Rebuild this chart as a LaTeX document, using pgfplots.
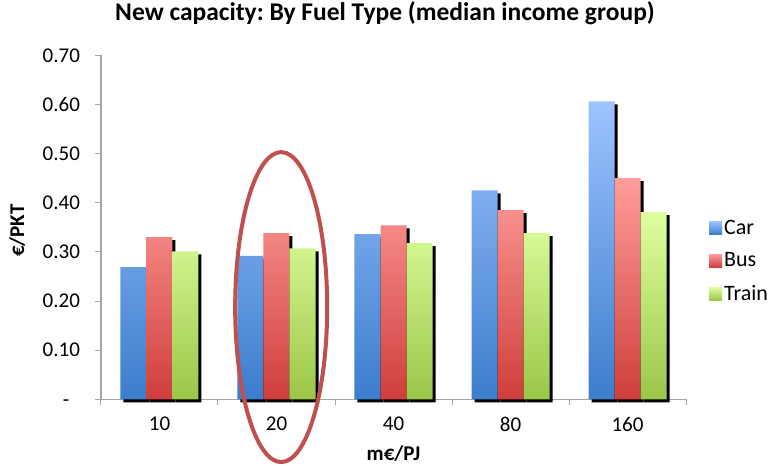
\documentclass[border=0pt]{standalone}
\usepackage{fontspec}
\setmainfont{Carlito}
\usepackage{pgfplots}
\usepackage{pgfplotstable}
\pgfplotsset{compat=1.18}
\usetikzlibrary{shadows}
\frenchspacing

\definecolor{cartop}{HTML}{9DC3FF}
\definecolor{carbot}{HTML}{3C7DCC}
\definecolor{bustop}{HTML}{FF9D9A}
\definecolor{busbot}{HTML}{CF3E3C}
\definecolor{traintop}{HTML}{DEFF9E}
\definecolor{trainbot}{HTML}{9BC648}
\definecolor{axisgray}{HTML}{A6A6A6}
\definecolor{ringred}{HTML}{C0504D}

% cost per passenger-km, by capacity cost level (m€/PJ)
\pgfplotstableread{
x car   bus   train
0 0.269 0.330 0.301
1 0.292 0.338 0.307
2 0.336 0.354 0.318
3 0.425 0.385 0.338
4 0.606 0.450 0.381
}\costdata

\tikzset{
  barshadow/.style={drop shadow={shadow xshift=3bp, shadow yshift=-3bp,
    shade=false, fill=black, opacity=1}},
}

\begin{document}
\begin{tikzpicture}
\begin{axis}[
  scale only axis, width=585bp, height=344bp,
  xmin=-0.5, xmax=4.5, ymin=0, ymax=0.7,
  clip=false,
  ybar, bar width=26bp,
  axis x line*=bottom, axis y line*=left,
  axis line style={draw=axisgray, line width=1.2bp},
  tick align=outside,
  xtick={0,1,2,3,4},
  xticklabels={10,20,40,80,160},
  major x tick style={draw=none},
  minor xtick={-0.5,0.5,1.5,2.5,3.5,4.5},
  minor x tick style={draw=axisgray, line width=1bp},
  minor tick length=6bp,
  ytick={0,0.1,0.2,0.3,0.4,0.5,0.6,0.7},
  yticklabels={-\phantom{0},0.10,0.20,0.30,0.40,0.50,0.60,0.70},
  major y tick style={draw=axisgray, line width=1bp},
  major tick length=6bp,
  tick label style={font=\fontsize{21bp}{25bp}\selectfont},
  yticklabel style={xshift=-11.5bp},
  xticklabel style={yshift=-8bp},
  title={\textbf{New capacity: By Fuel Type (median income group)}},
  title style={at={(axis description cs:0.4855,1)}, anchor=base, yshift=28.6bp,
    font=\fontsize{25.5bp}{30bp}\selectfont},
  xlabel={\textbf{m€/PJ}},
  every axis x label/.style={at={(axis description cs:0.5,0)}, anchor=base, yshift=-61bp,
    font=\fontsize{21bp}{25bp}\selectfont},
  ylabel={\textbf{€/PKT}},
  every axis y label/.style={at={(axis description cs:-0.1316,0.4907)}, rotate=90, anchor=base,
    font=\fontsize{21bp}{25bp}\selectfont},
  legend image code/.code={\fill[#1] (0bp,-6.5bp) rectangle (13bp,6.5bp);},
  legend cell align=left,
  legend style={draw=none, fill=none, inner sep=0pt,
    at={(axis description cs:1.0393,0.402)}, anchor=west,
    font=\fontsize{22bp}{26bp}\selectfont, row sep=13bp},
]
\addplot[bar shift=-26bp, draw=none, shading=axis, top color=cartop, bottom color=carbot,
  barshadow, forget plot] table[x=x, y=car] {\costdata};
\addplot[bar shift=0bp, draw=none, shading=axis, top color=bustop, bottom color=busbot,
  barshadow, forget plot] table[x=x, y=bus] {\costdata};
\addplot[bar shift=26bp, draw=none, shading=axis, top color=traintop, bottom color=trainbot,
  barshadow, forget plot] table[x=x, y=train] {\costdata};

\addlegendimage{top color=cartop, bottom color=carbot, draw=none}
\addlegendentry{Car}
\addlegendimage{top color=bustop, bottom color=busbot, draw=none}
\addlegendentry{Bus}
\addlegendimage{top color=traintop, bottom color=trainbot, draw=none}
\addlegendentry{Train}

% highlight around the 20 m€/PJ group
\draw[ringred, line width=4bp] (axis cs:1.04,0.1876) ellipse [x radius=46bp, y radius=155bp];
\end{axis}
\pgfresetboundingbox
\path[use as bounding box] (-101bp,-67.7bp) rectangle (671bp,399.3bp);
\end{tikzpicture}
\end{document}
